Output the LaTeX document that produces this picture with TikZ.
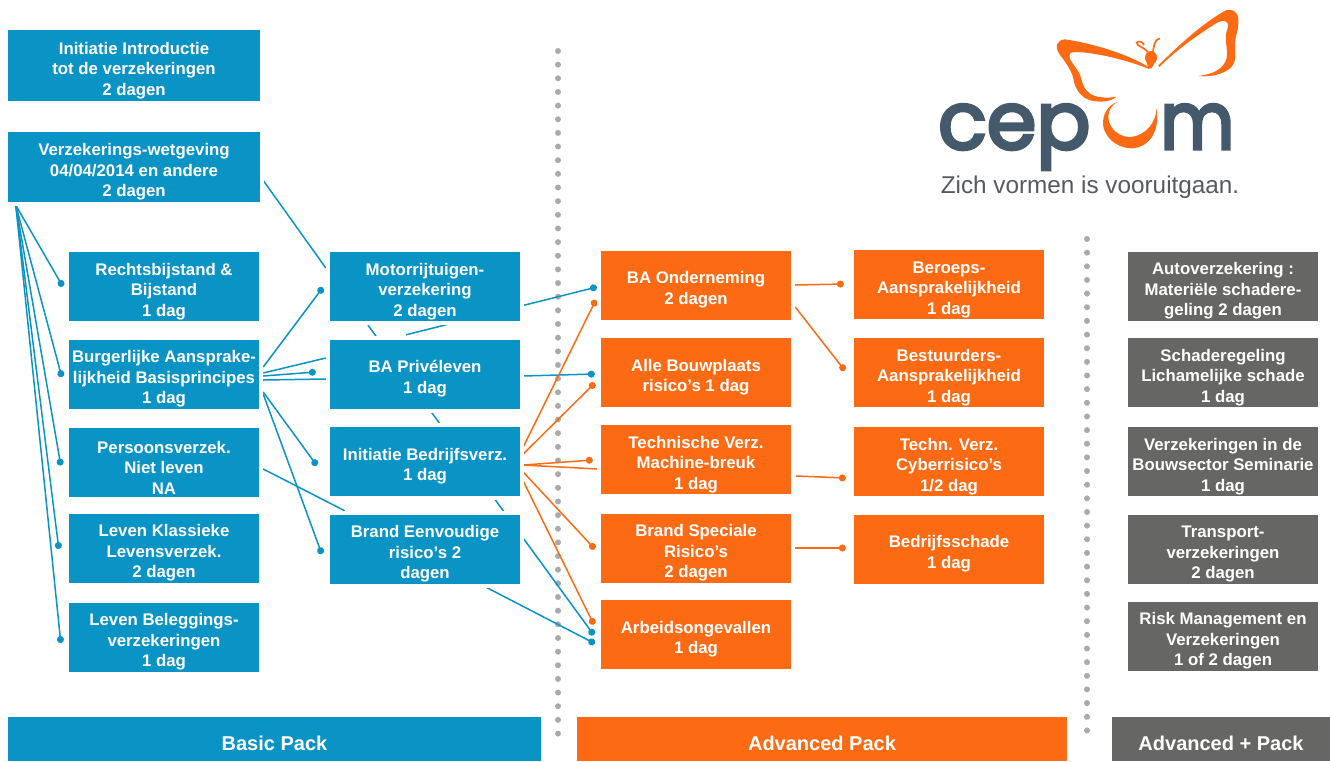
\documentclass[tikz,border=0pt]{standalone}
\usepackage{fontspec}
\usepackage{graphicx}
\setmainfont{Liberation Sans}
\newfontfamily\logofont[FakeBold=4]{Poppins}
\usetikzlibrary{arrows.meta,backgrounds}
\definecolor{cblue}{RGB}{10,147,197}
\definecolor{corange}{RGB}{252,107,20}
\definecolor{cgrey}{RGB}{102,102,100}
\definecolor{cdots}{RGB}{170,170,170}
\definecolor{clogo}{RGB}{68,90,108}
\definecolor{ctag}{RGB}{85,90,95}
\newcommand\Tt{\rule{0pt}{22pt}}
\newcommand\Tb{\rule{0pt}{24pt}}
\tikzset{
  card/.style={rectangle,preaction={draw=white,line width=8pt},text=white,
    font=\fontsize{16.8}{20.5}\selectfont\bfseries,align=center,inner sep=0pt,
    minimum width=190pt,minimum height=69pt},
  bluecard/.style={card,fill=cblue},
  orangecard/.style={card,fill=corange},
  greycard/.style={card,fill=cgrey},
  widecard/.style={bluecard,minimum width=252pt},
  packbar/.style={rectangle,text=white,font=\fontsize{20}{22}\selectfont\bfseries,
    inner sep=0pt,minimum height=44pt},
  sepline/.style={cdots,line width=6pt,line cap=round,dash pattern=on 0pt off 13.65pt},
  bluelink/.style={cblue,line width=1.5pt},
  orangelink/.style={corange,line width=1.5pt},
  bluedot/.style={bluelink,-{Circle[length=7pt,width=7pt]}},
  orangedot/.style={orangelink,-{Circle[length=7pt,width=7pt]}},
  wingfill/.style={fill=corange,draw=none},
}
\begin{document}
\begin{tikzpicture}[x=1pt,y=-1pt]
\useasboundingbox (0,0) rectangle (1330,761);
% boxes
\node[widecard,minimum height=71pt] (intro) at (134,65.5) {\Tt Initiatie  Introductie\\tot de verzekeringen\\2 dagen};
\node[widecard,minimum height=70pt] (verz) at (134,167) {\Tt Verzekerings-wetgeving\\04/04/2014 en andere\\2 dagen};
\node[bluecard] (rechts) at (164,286.5) {\Tt Rechtsbijstand \&\\Bijstand\\1 dag};
\node[bluecard] (burger) at (164,374) {\Tt Burgerlijke Aansprake-\\lijkheid Basisprincipes\\1 dag};
\node[bluecard] (pers) at (164,462.5) {\Tt Persoonsverzek.\\Niet leven\\NA};
\node[bluecard] (levk) at (164,548) {\Tt Leven Klassieke\\Levensverzek.\\2 dagen};
\node[bluecard] (levb) at (164,637) {\Tt Leven Beleggings-\\verzekeringen\\1 dag};
\node[bluecard] (motor) at (425,286.5) {\Tt Motorrijtuigen-\\verzekering\\2 dagen};
\node[bluecard] (ba) at (425,374) {\Tt BA Privéleven\\1 dag};
\node[bluecard] (init) at (425,461.5) {\Tt Initiatie Bedrijfsverz.\\1 dag};
\node[bluecard] (brand) at (425,549) {\Tt Brand Eenvoudige\\risico's 2\\dagen};
\node[orangecard] (ond) at (696,285) {\Tt BA Onderneming\\2 dagen};
\node[orangecard] (alle) at (696,372.5) {\Tt Alle Bouwplaats\\risico's 1 dag};
\node[orangecard] (tech) at (696,459.5) {\Tt Technische Verz.\\Machine-breuk\\1 dag};
\node[orangecard] (spec) at (696,548) {\Tt Brand Speciale\\Risico's\\2 dagen};
\node[orangecard] (arb) at (696,634.5) {\Tt Arbeidsongevallen\\1 dag};
\node[orangecard] (ber) at (949,284.5) {\Tt Beroeps-\\Aansprakelijkheid\\1 dag};
\node[orangecard] (best) at (949,372.5) {\Tt Bestuurders-\\Aansprakelijkheid\\1 dag};
\node[orangecard] (cyb) at (949,461.5) {\Tt Techn. Verz.\\Cyberrisico's\\1/2 dag};
\node[orangecard] (bed) at (949,549) {\Tt Bedrijfsschade\\1 dag};
\node[greycard] (auto) at (1223,286) {\Tt Autoverzekering :\\Materiële schadere-\\geling 2 dagen};
\node[greycard] (schade) at (1223,372.5) {\Tt Schaderegeling\\Lichamelijke schade\\1 dag};
\node[greycard] (bouw) at (1223,461.5) {\Tt Verzekeringen in de\\Bouwsector Seminarie\\1 dag};
\node[greycard] (trans) at (1223,549) {\Tt Transport-\\verzekeringen\\2 dagen};
\node[greycard] (risk) at (1223,636) {\Tt Risk Management en\\Verzekeringen\\1 of 2 dagen};
% pack bars
\node[packbar,fill=cblue,minimum width=533pt] (pbasic) at (274.5,739) {\Tb Basic Pack};
\node[packbar,fill=corange,minimum width=490pt] (padv) at (822,739) {\Tb Advanced Pack};
\node[packbar,fill=cgrey,minimum width=218pt] (pplus) at (1221,739) {\Tb Advanced + Pack};
% logo
\node[anchor=base west,inner sep=0pt,text=clogo,font=\logofont\fontsize{80}{80}\selectfont] (lcep) at (938,149) {cep};
\node[anchor=base west,inner sep=0pt,text=clogo,font=\logofont\fontsize{80}{80}\selectfont] (lm) at (1160,149) {\scalebox{0.9}[1]{m}};
\node[anchor=base,inner sep=0pt,text=ctag,font=\fontsize{24.3}{26}\selectfont] (tag) at (1090,193) {Zich vormen is vooruitgaan.};
\begin{scope}[shift={(1050,5)},xscale=0.3333,yscale=0.3333]
  % left wing
  \fill[wingfill] (297,187) .. controls (240,150) and (130,115) .. (45,103)
    .. controls (20,105) and (12,125) .. (30,150)
    .. controls (50,175) and (65,200) .. (70,220)
    .. controls (75,255) and (95,280) .. (125,287)
    .. controls (150,293) and (185,290) .. (200,275)
    .. controls (175,280) and (135,280) .. (115,262)
    .. controls (95,245) and (95,215) .. (85,200)
    .. controls (70,175) and (50,160) .. (62,143)
    .. controls (100,135) and (220,160) .. (297,192) -- cycle;
  % right wing
  \fill[wingfill] (325,182) .. controls (380,125) and (470,45) .. (530,15)
    .. controls (570,10) and (570,50) .. (560,85)
    .. controls (550,120) and (560,150) .. (553,172)
    .. controls (540,205) and (485,218) .. (445,213)
    .. controls (485,208) and (520,195) .. (530,160)
    .. controls (535,130) and (520,100) .. (533,70)
    .. controls (540,45) and (520,40) .. (490,60)
    .. controls (420,105) and (370,145) .. (328,186) -- cycle;
  % body and antennae
  \fill[wingfill] (303,158) ellipse [x radius=18,y radius=20];
  \fill[wingfill] (288,165) -- (318,165) -- (305,190) -- (295,190) -- cycle;
  \draw[corange,line width=1.7pt] (295,145) .. controls (285,125) and (260,125) .. (260,113)
    .. controls (265,106) and (278,110) .. (282,120);
  \draw[corange,line width=1.7pt] (308,145) .. controls (312,125) and (312,103) .. (330,100);
  % stylised u
  \fill[wingfill] (205,290) .. controls (170,300) and (155,335) .. (160,365)
    .. controls (170,410) and (215,432) .. (250,430)
    .. controls (295,425) and (330,385) .. (320,310)
    .. controls (318,350) and (290,392) .. (240,396)
    .. controls (200,395) and (175,365) .. (175,335)
    .. controls (175,315) and (185,300) .. (205,290) -- cycle;
\end{scope}
% connectors behind boxes
\begin{pgfonlayer}{background}
  \coordinate (sepatop) at (558,51);
  \coordinate (sepabot) at (558,738);
  \coordinate (sepbtop) at (1087,239);
  \coordinate (sepbbot) at (1087,738);
  \draw[sepline] (sepatop) -- (sepabot);
  \draw[sepline] (sepbtop) -- (sepbbot);
  % from Verzekerings-wetgeving
  \draw[bluedot] ([shift={(8,3)}]verz.south west) -- ([shift={(-6,0)}]rechts.west);
  \draw[bluedot] ([shift={(8,3)}]verz.south west) -- ([shift={(-7,3)}]burger.west);
  \draw[bluedot] ([shift={(8,3)}]verz.south west) -- ([shift={(-8,3)}]pers.west);
  \draw[bluedot] ([shift={(8,3)}]verz.south west) -- ([shift={(-10,1)}]levk.west);
  \draw[bluedot] ([shift={(8,3)}]verz.south west) -- ([shift={(-8,6)}]levb.west);
  \draw[bluelink] ([shift={(2,12)}]verz.east) -- ([shift={(-4,-18.5)}]motor.west);
  % from Burgerlijke
  \draw[bluedot] ([shift={(4,-7)}]burger.east) -- ([shift={(-7,1)}]motor.west);
  \draw[bluelink] ([shift={(4,-1)}]burger.east) -- ([shift={(-4,-16)}]ba.west);
  \draw[bluedot] ([shift={(4,2)}]burger.east) -- ([shift={(-14,-2)}]ba.west);
  \draw[bluelink] ([shift={(4,6)}]burger.east) -- ([shift={(-4,5)}]ba.west);
  \draw[bluedot] ([shift={(4,18)}]burger.east) -- ([shift={(-13,4)}]init.west);
  \draw[bluedot] ([shift={(4,20)}]burger.east) -- ([shift={(-8,5)}]brand.west);
  \draw[bluelink] ([shift={(4,6.5)}]pers.east) -- ([shift={(15,-3.5)}]brand.north west);
  % long lines passing behind boxes
  \draw[bluedot] ([shift={(-57,4)}]motor.south) -- ([shift={(-7,0.5)}]arb.west);
  \draw[bluedot] ([shift={(-19,-4.5)}]ba.north) -- ([shift={(-4,2)}]ond.west);
  \draw[bluedot] ([shift={(3,2)}]ba.east) -- ([shift={(-6,1.5)}]alle.west);
  \draw[bluedot] ([shift={(61,3.5)}]brand.south) -- ([shift={(-6,9)}]arb.west);
  % orange from Initiatie Bedrijfsverz.
  \draw[orangedot] ([shift={(3,-14.5)}]init.east) -- ([shift={(-5,15)}]ond.west);
  \draw[orangedot] ([shift={(3,-7.5)}]init.east) -- ([shift={(-6,10.5)}]alle.west);
  \draw[orangedot] ([shift={(3,3.5)}]init.east) -- ([shift={(-8,0.5)}]tech.west);
  \draw[orangelink] ([shift={(3,3.5)}]init.east) -- ([shift={(-3,9.5)}]tech.west);
  \draw[orangedot] ([shift={(3,10.5)}]init.east) -- ([shift={(-6,1)}]spec.west);
  \draw[orangedot] ([shift={(3,19.5)}]init.east) -- ([shift={(-7,-10)}]arb.west);
  % orange to second column
  \draw[orangedot] ([shift={(4,0)}]ond.east) -- ([shift={(-10,-0.5)}]ber.west);
  \draw[orangedot] ([shift={(4,22)}]ond.east) -- ([shift={(-9,-2)}]best.west);
  \draw[orangedot] ([shift={(5,16.5)}]tech.east) -- ([shift={(-8,16.5)}]cyb.west);
  \draw[orangedot] ([shift={(4,0)}]spec.east) -- ([shift={(-8,-1)}]bed.west);
\end{pgfonlayer}
\end{tikzpicture}
\end{document}
